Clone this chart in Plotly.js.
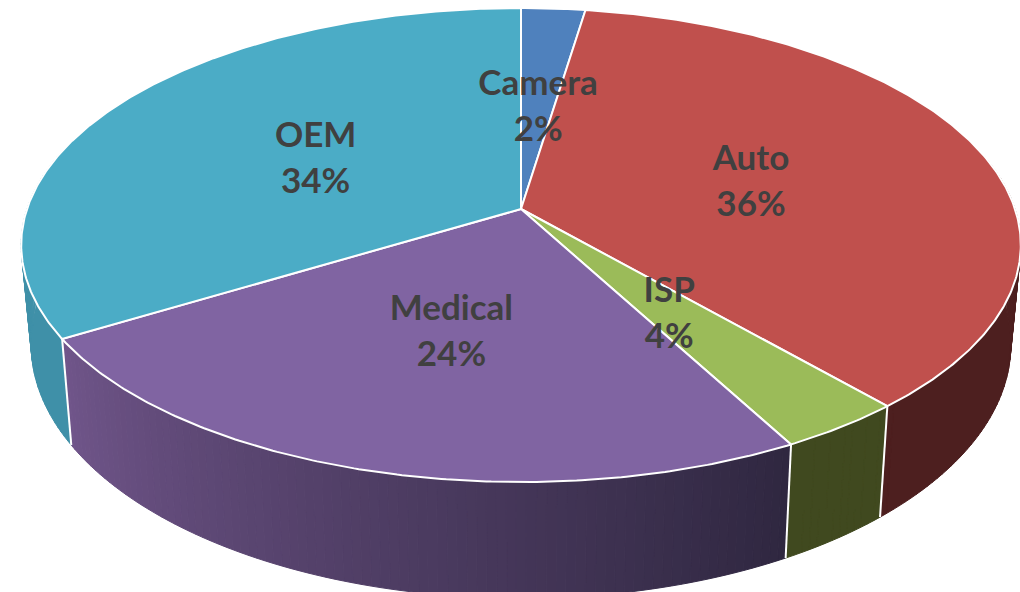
<!DOCTYPE html>
<html>
<head>
<meta charset="utf-8">
<script src="https://cdn.plot.ly/plotly-3.0.1.min.js"></script>
<style>html,body{margin:0;padding:0;background:#fff;overflow:hidden}#chart{width:1020px;height:592px}</style>
</head>
<body>
<div id="chart"></div>
<script>
// Data
const categories = ['Camera', 'Auto', 'ISP', 'Medical', 'OEM'];
const shares = [2.4, 36.2, 3.55, 24.2, 33.65];
const topColors = ['#4f81bd', '#c0504d', '#9bbb59', '#8064a2', '#4bacc6'];
const wallColorsFrom = ['#2f5078', '#4d1f1f', '#40491f', '#70558a', '#3f90a8'];
const wallColorsTo = ['#2f5078', '#4d1f1f', '#40491f', '#2f2740', '#3f90a8'];

// Perspective projection of the tilted pie
const W = 1020, H = 592;
const cx = 521, cy = 209, a = 494, b = 231.5, k = 0.152;
const rimScale = 0.98, depthSlope = 1.07, depthBase = 82.5;

function project(theta, r) {
  const u = r * Math.sin(theta), v = -r * Math.cos(theta), w = 1 - k * v;
  return [cx + a * u / w, cy + b * v / w];
}
function lower(p) {
  return [cx + rimScale * (p[0] - cx), depthSlope * p[1] + depthBase];
}
function hex(c) { return [1, 3, 5].map(i => parseInt(c.substr(i, 2), 16)); }
function mix(c1, c2, t) {
  const A = hex(c1), B = hex(c2);
  return 'rgb(' + A.map((x, i) => Math.round(x + (B[i] - x) * t)).join(',') + ')';
}

const total = shares.reduce((s, x) => s + x, 0);
let acc = 0;
const slices = shares.map((s, i) => {
  const start = acc / total * 2 * Math.PI;
  acc += s;
  return { i, start, end: acc / total * 2 * Math.PI };
});

const traces = [];
const STEP = Math.PI / 180;

// Side walls, as thin strips between the upper and the lower rim
slices.forEach(sl => {
  const n = Math.max(1, Math.ceil((sl.end - sl.start) / STEP));
  const same = wallColorsFrom[sl.i] === wallColorsTo[sl.i];
  const xs = [], ys = [];
  for (let j = 0; j < n; j++) {
    const t0 = sl.start + (sl.end - sl.start) * j / n;
    const t1 = sl.start + (sl.end - sl.start) * (j + 1) / n;
    if (Math.cos((t0 + t1) / 2) > 0.25) continue;
    const p0 = project(t0, 1), p1 = project(t1, 1), q0 = lower(p0), q1 = lower(p1);
    const px = [p0[0], p1[0], q1[0], q0[0], p0[0]], py = [p0[1], p1[1], q1[1], q0[1], p0[1]];
    if (same) {
      xs.push(...px, null); ys.push(...py, null);
    } else {
      const t = (j + 0.5) / n;
      const col = mix(wallColorsTo[sl.i], wallColorsFrom[sl.i], t);
      traces.push({ type: 'scatter', mode: 'lines', x: px, y: py, fill: 'toself', fillcolor: col,
        line: { color: col, width: 1 }, hoverinfo: 'skip', showlegend: false });
    }
  }
  if (same && xs.length) {
    traces.push({ type: 'scatter', mode: 'lines', x: xs, y: ys, fill: 'toself', fillcolor: wallColorsFrom[sl.i],
      line: { color: wallColorsFrom[sl.i], width: 1 }, hoverinfo: 'skip', showlegend: false });
  }
});

// White edges between the visible walls
slices.forEach(sl => {
  if (Math.cos(sl.end) < -0.2 && sl.i < slices.length - 1) {
    const p = project(sl.end, 1), q = lower(p);
    traces.push({ type: 'scatter', mode: 'lines', x: [p[0], q[0]], y: [p[1], q[1]],
      line: { color: '#ffffff', width: 2 }, hoverinfo: 'skip', showlegend: false });
  }
});

// Top faces
slices.forEach(sl => {
  const xs = [cx], ys = [cy];
  const n = Math.ceil((sl.end - sl.start) / STEP) * 2;
  for (let j = 0; j <= n; j++) {
    const p = project(sl.start + (sl.end - sl.start) * j / n, 1);
    xs.push(p[0]); ys.push(p[1]);
  }
  xs.push(cx); ys.push(cy);
  traces.push({ type: 'scatter', mode: 'lines', x: xs, y: ys, fill: 'toself', fillcolor: topColors[sl.i],
    line: { color: '#ffffff', width: 2 }, hoverinfo: 'skip', showlegend: false, name: categories[sl.i] });
});

// Labels
const labelFont = { family: 'Lato, Carlito, "Open Sans", sans-serif', size: 35, color: '#404040', weight: 700 };
const lineGap = 23, labelDrop = 6.5;
const mids = slices.map(sl => project((sl.start + sl.end) / 2, 0.495));
traces.push({ type: 'scatter', mode: 'text', x: mids.map(p => p[0]), y: mids.map(p => p[1] + labelDrop - lineGap),
  text: categories.map(c => '<b>' + c + '</b>'), textposition: 'middle center', textfont: labelFont,
  hoverinfo: 'skip', showlegend: false, cliponaxis: false });
traces.push({ type: 'scatter', mode: 'text', x: mids.map(p => p[0]), y: mids.map(p => p[1] + labelDrop + lineGap),
  text: shares.map(s => '<b>' + Math.round(s / total * 100) + '%</b>'), textposition: 'middle center', textfont: labelFont,
  hoverinfo: 'skip', showlegend: false, cliponaxis: false });

const hidden = { visible: false, fixedrange: true, showgrid: false, zeroline: false };
Plotly.newPlot('chart', traces, {
  width: W, height: H, margin: { l: 0, r: 0, t: 0, b: 0 },
  paper_bgcolor: '#ffffff', plot_bgcolor: '#ffffff', showlegend: false,
  xaxis: Object.assign({ range: [0, W] }, hidden),
  yaxis: Object.assign({ range: [H, 0] }, hidden)
}, { displayModeBar: false, staticPlot: true });
</script>
</body>
</html>
